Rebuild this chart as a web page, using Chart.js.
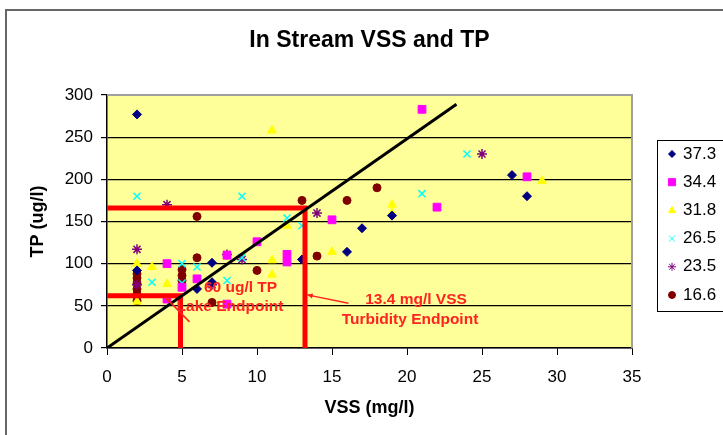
<!DOCTYPE html>
<html>
<head>
<meta charset="utf-8">
<script src="https://cdn.jsdelivr.net/npm/chart.js@4.4.0/dist/chart.umd.min.js"></script>
<style>
  html, body { margin: 0; padding: 0; background: #fff; }
  #wrap { width: 723px; height: 435px; }
</style>
</head>
<body>
<div id="wrap"><canvas id="vssChart" width="723" height="435"></canvas></div>
<script>
// series names (legend)
const seriesNames = ['37.3', '34.4', '31.8', '26.5', '23.5', '16.6'];

// VSS (mg/l) and TP (ug/l) per series
const vss373 = [2, 27, 28, 19, 17, 16, 13, 7, 7, 6, 2];
const tp373 = [277, 205, 180, 157, 142, 114, 105, 101, 78, 70, 92];
const vss344 = [21, 28, 22, 15, 12, 12, 10, 8, 8, 4, 4, 5, 6];
const tp344 = [283, 203, 167, 152, 111, 102, 126, 110, 52, 100, 58, 72, 82];
const vss318 = [11, 29, 19, 19, 15, 11, 11, 12, 3, 2, 4, 2];
const tp318 = [258, 198, 170, 160, 114, 104, 87, 145, 96, 100, 76, 55];
const vss265 = [2, 9, 24, 21, 12, 13, 3, 5, 5, 6, 8, 9];
const tp265 = [180, 180, 230, 183, 154, 145, 78, 100, 77, 96, 80, 107];
const vss235 = [4, 2, 25, 14, 9, 8, 7, 2];
const tp235 = [170, 117, 230, 160, 105, 111, 75, 75];
const vss166 = [6, 13, 16, 18, 14, 10, 7, 2, 2, 2, 2, 2, 2, 5, 5, 5, 6];
const tp166 = [156, 175, 175, 190, 109, 92, 54, 88, 83, 77, 70, 64, 56, 93, 86, 80, 107];

// trend line and endpoint lines
const trendX = [0, 23.3];
const trendY = [0, 289];
const lakeX = [0, 4.9, 4.9];
const lakeY = [62, 62, 0];
const turbX = [0, 13.2, 13.2];
const turbY = [166, 166, 0];

// axis ticks
const xTicks = [0, 5, 10, 15, 20, 25, 30, 35];
const yTicks = [0, 50, 100, 150, 200, 250, 300];

const chartTitle = 'In Stream VSS and TP';
const FONT = "'Liberation Sans', Arial, sans-serif";

const zip = (xs, ys) => xs.map((x, i) => ({ x: x, y: ys[i] }));

const markerStyles = [
  { pointStyle: 'rectRot', color: '#000080', radius: 4.5, legendRadius: 3.5, borderWidth: 1 },
  { pointStyle: 'rect', color: '#FF00FF', radius: 5.5, legendRadius: 5, borderWidth: 1 },
  { pointStyle: 'triangle', color: '#FFFF00', radius: 5, legendRadius: 4, borderWidth: 1 },
  { pointStyle: 'crossRot', color: '#00FFFF', radius: 5, legendRadius: 4, borderWidth: 1.5 },
  { pointStyle: 'star', color: '#800080', radius: 5, legendRadius: 4, borderWidth: 1.5 },
  { pointStyle: 'circle', color: '#800000', radius: 4, legendRadius: 3.5, borderWidth: 1 }
];

const seriesData = [
  zip(vss373, tp373), zip(vss344, tp344), zip(vss318, tp318),
  zip(vss265, tp265), zip(vss235, tp235), zip(vss166, tp166)
];

const pointSets = seriesNames.map((name, i) => ({
  label: name,
  data: seriesData[i],
  pointStyle: markerStyles[i].pointStyle,
  pointRadius: markerStyles[i].radius,
  pointHoverRadius: markerStyles[i].radius,
  pointBorderWidth: markerStyles[i].borderWidth,
  backgroundColor: markerStyles[i].color,
  borderColor: markerStyles[i].color,
  showLine: false,
  order: 1
}));

const lineSet = (label, xs, ys, color, width) => ({
  label: label,
  data: zip(xs, ys),
  showLine: true,
  borderColor: color,
  borderWidth: width,
  pointRadius: 0,
  fill: false,
  order: 0
});

const lineSets = [
  lineSet('trend', trendX, trendY, '#000000', 3),
  lineSet('lake', lakeX, lakeY, '#FF0000', 5),
  lineSet('turbidity', turbX, turbY, '#FF0000', 5)
];

// plot background, outer frame, title and grey plot border
const plotFrame = {
  id: 'plotFrame',
  beforeDraw(chart) {
    const { ctx, chartArea: a } = chart;
    ctx.save();
    ctx.fillStyle = '#fff';
    ctx.fillRect(0, 0, chart.width, chart.height);
    ctx.strokeStyle = '#666';
    ctx.lineWidth = 2;
    ctx.strokeRect(6, 10, chart.width + 20, chart.height + 20);
    ctx.fillStyle = '#FFFF99';
    ctx.fillRect(a.left, a.top, a.right - a.left, a.bottom - a.top);
    // title centred over the plot area
    ctx.fillStyle = '#000';
    ctx.font = 'bold 23px ' + FONT;
    ctx.textAlign = 'center';
    ctx.textBaseline = 'middle';
    ctx.fillText(chartTitle, (a.left + a.right) / 2, 41);
    ctx.restore();
  },
  beforeDatasetsDraw(chart) {
    const { ctx, chartArea: a } = chart;
    ctx.save();
    ctx.strokeStyle = '#a0a0a0';
    ctx.lineWidth = 2;
    ctx.beginPath();
    ctx.moveTo(a.left, a.top);
    ctx.lineTo(a.right, a.top);
    ctx.lineTo(a.right, a.bottom);
    ctx.stroke();
    ctx.restore();
  }
};

// red notes with arrows
const notes = [
  { text: '60 ug/l TP', x: 8.9, y: 72 },
  { text: 'Lake Endpoint', x: 8.2, y: 49 },
  { text: '13.4 mg/l VSS', x: 20.6, y: 57 },
  { text: 'Turbidity Endpoint', x: 20.2, y: 33 }
];
const arrows = [
  { from: [5.5, 31], to: [3.9, 60] },
  { from: [16.1, 53], to: [13.35, 63] }
];

const endpointNotes = {
  id: 'endpointNotes',
  afterDatasetsDraw(chart) {
    const { ctx } = chart;
    const xs = chart.scales.x, ys = chart.scales.y;
    ctx.save();
    ctx.fillStyle = '#FF2222';
    ctx.strokeStyle = '#FF2222';
    ctx.font = 'bold 15.5px ' + FONT;
    ctx.textAlign = 'center';
    ctx.textBaseline = 'middle';
    notes.forEach(n => ctx.fillText(n.text, xs.getPixelForValue(n.x), ys.getPixelForValue(n.y)));
    ctx.lineWidth = 1.5;
    arrows.forEach(ar => {
      const x1 = xs.getPixelForValue(ar.from[0]), y1 = ys.getPixelForValue(ar.from[1]);
      const x2 = xs.getPixelForValue(ar.to[0]), y2 = ys.getPixelForValue(ar.to[1]);
      ctx.beginPath();
      ctx.moveTo(x1, y1);
      ctx.lineTo(x2, y2);
      ctx.stroke();
      const ang = Math.atan2(y2 - y1, x2 - x1);
      ctx.beginPath();
      ctx.moveTo(x2, y2);
      ctx.lineTo(x2 - 6 * Math.cos(ang - 0.45), y2 - 6 * Math.sin(ang - 0.45));
      ctx.lineTo(x2 - 6 * Math.cos(ang + 0.45), y2 - 6 * Math.sin(ang + 0.45));
      ctx.closePath();
      ctx.fill();
    });
    ctx.restore();
  }
};

// boxed legend on the right
const boxLegend = {
  id: 'boxLegend',
  afterDraw(chart) {
    const { ctx } = chart;
    const left = 657, top = 140, rowH = 28.2;
    ctx.save();
    ctx.strokeStyle = '#000';
    ctx.lineWidth = 1;
    ctx.strokeRect(left + 0.5, top + 0.5, 100, 171);
    ctx.font = '17px ' + FONT;
    ctx.textBaseline = 'middle';
    ctx.textAlign = 'left';
    seriesNames.forEach((name, i) => {
      const y = top + 14 + i * rowH;
      const m = markerStyles[i];
      ctx.fillStyle = m.color;
      ctx.strokeStyle = m.color;
      Chart.helpers.drawPoint(ctx, {
        pointStyle: m.pointStyle, radius: m.legendRadius, borderWidth: m.borderWidth, rotation: 0
      }, left + 15, y);
      ctx.fillStyle = '#000';
      ctx.fillText(name, left + 26, y);
    });
    ctx.restore();
  }
};

new Chart(document.getElementById('vssChart').getContext('2d'), {
  type: 'scatter',
  data: { datasets: [...lineSets, ...pointSets] },
  options: {
    responsive: false,
    animation: false,
    layout: { padding: { left: 0, right: 91, top: 95, bottom: 0 } },
    plugins: {
      legend: { display: false },
      tooltip: { enabled: false }
    },
    scales: {
      x: {
        type: 'linear',
        min: 0,
        max: 35,
        afterBuildTicks: s => { s.ticks = xTicks.map(v => ({ value: v })); },
        afterFit: s => { s.height = 87; },
        ticks: { color: '#000', padding: 12, font: { family: FONT, size: 17 } },
        grid: { drawOnChartArea: false, color: '#000', tickLength: 7 },
        border: { color: '#000', width: 1.5 },
        title: {
          display: true,
          text: 'VSS (mg/l)',
          color: '#000',
          font: { family: FONT, size: 18, weight: 'bold' },
          padding: { top: 0, bottom: 16 }
        }
      },
      y: {
        type: 'linear',
        min: 0,
        max: 300,
        afterBuildTicks: s => { s.ticks = yTicks.map(v => ({ value: v })); },
        afterFit: s => { s.width = 107; },
        ticks: { color: '#000', padding: 8, font: { family: FONT, size: 17 } },
        grid: { color: '#000', lineWidth: 1.2, tickLength: 6 },
        border: { color: '#000', width: 1.5 },
        title: {
          display: true,
          text: 'TP (ug/l)',
          color: '#000',
          font: { family: FONT, size: 18, weight: 'bold' },
          padding: { top: 27, bottom: 0 }
        }
      }
    }
  },
  plugins: [plotFrame, endpointNotes, boxLegend]
});
</script>
</body>
</html>
